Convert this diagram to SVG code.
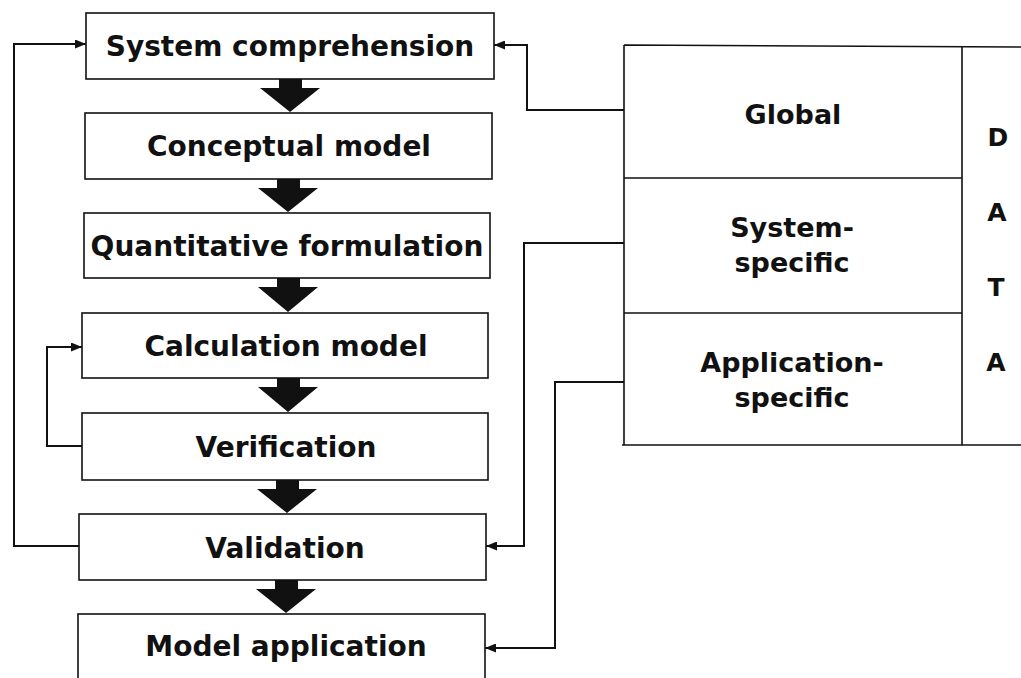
<svg xmlns="http://www.w3.org/2000/svg" width="1021" height="678" viewBox="0 0 1021 678">
<defs>
<style>
.box{fill:#fff;stroke:#111;stroke-width:1.6}
.lbl{font-family:"DejaVu Sans",sans-serif;font-weight:bold;font-size:28px;fill:#111;text-anchor:middle}
.dlbl{font-family:"DejaVu Sans",sans-serif;font-weight:bold;font-size:27px;fill:#111;text-anchor:middle}
.data{font-family:"DejaVu Sans",sans-serif;font-weight:bold;font-size:25px;fill:#111;text-anchor:middle}
.con{fill:none;stroke:#111;stroke-width:2}
.fat{fill:#111}
.tbl{fill:none;stroke:#111;stroke-width:1.6}
</style>
<marker id="ah" viewBox="0 0 11 9" refX="11" refY="4.5" markerWidth="11" markerHeight="9" markerUnits="userSpaceOnUse" orient="auto">
<path d="M0,0 L11,4.5 L0,9 z" fill="#111"/>
</marker>
</defs>
<rect width="1021" height="678" fill="#fff"/>

<g id="n1"><rect class="box" x="86" y="13" width="408" height="66"/><text class="lbl" x="290" y="56">System comprehension</text></g>
<g id="n2"><rect class="box" x="85" y="113" width="407" height="66"/><text class="lbl" x="289" y="156">Conceptual model</text></g>
<g id="n3"><rect class="box" x="84" y="213" width="406" height="65"/><text class="lbl" x="287" y="256">Quantitative formulation</text></g>
<g id="n4"><rect class="box" x="82" y="313" width="406" height="65"/><text class="lbl" x="286" y="356">Calculation model</text></g>
<g id="n5"><rect class="box" x="82" y="413" width="406" height="67"/><text class="lbl" x="286" y="457">Verification</text></g>
<g id="n6"><rect class="box" x="79" y="514" width="407" height="66"/><text class="lbl" x="285" y="558">Validation</text></g>
<g id="n7"><rect class="box" x="78" y="614" width="407" height="80"/><text class="lbl" x="286" y="656">Model application</text></g>

<g id="data">
<path class="tbl" d="M624,45 L1021,47 M624,45 L624,445 M962,46 L962,445 M624,178 L962,178 M624,313 L962,313 M622,445 L1021,445"/>
<text class="dlbl" x="793" y="124">Global</text>
<text class="dlbl" x="792" y="237">System-</text>
<text class="dlbl" x="792" y="272">specific</text>
<text class="dlbl" x="792" y="372">Application-</text>
<text class="dlbl" x="792" y="407">specific</text>
<text class="data" x="998" y="146">D</text>
<text class="data" x="997" y="221">A</text>
<text class="data" x="996" y="296">T</text>
<text class="data" x="996" y="371">A</text>
</g>

<g id="connectors">
<polygon class="fat" points="279,79 302,79 302,88 320,88 290,112 260,88 279,88"/>
<polygon class="fat" points="277,179 300,179 300,188 318,188 288,212 258,188 277,188"/>
<polygon class="fat" points="277,278 300,278 300,287 318,287 288,312 258,287 277,287"/>
<polygon class="fat" points="277,378 300,378 300,387 318,387 288,412 258,387 277,387"/>
<polygon class="fat" points="276,480 299,480 299,489 317,489 287,513 257,489 276,489"/>
<polygon class="fat" points="275,580 298,580 298,589 316,589 286,613 256,589 275,589"/>
<path class="con" d="M79,546 L14,546 L14,44 L86,44" marker-end="url(#ah)"/>
<path class="con" d="M82,446 L47,446 L47,347 L82,347" marker-end="url(#ah)"/>
<path class="con" d="M624,110 L527,110 L527,45 L494,45" marker-end="url(#ah)"/>
<path class="con" d="M624,243 L524,243 L524,546 L486,546" marker-end="url(#ah)"/>
<path class="con" d="M624,382 L555,382 L555,648 L485,648" marker-end="url(#ah)"/>
</g>
</svg>
